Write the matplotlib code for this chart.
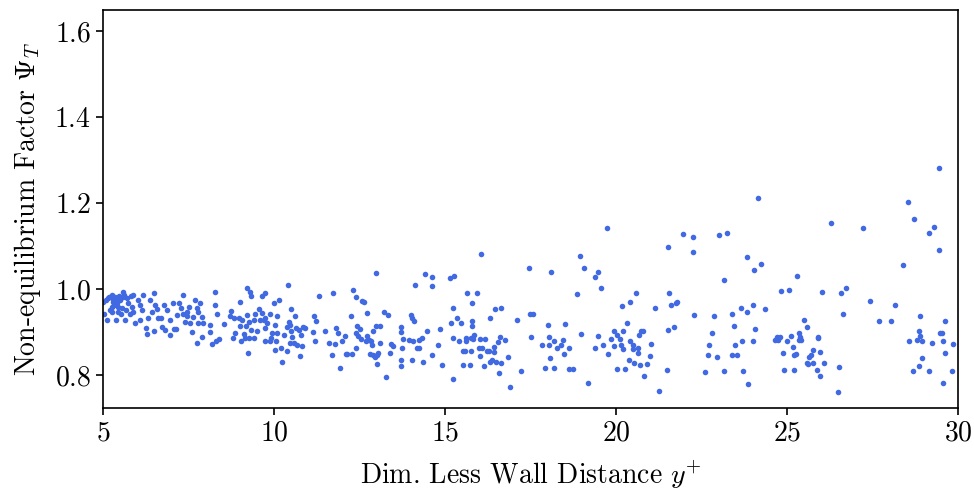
import matplotlib
matplotlib.use("Agg")
import matplotlib.pyplot as plt

plt.rcParams['font.family'] = 'serif'
plt.rcParams['font.serif'] = ['cmr10', 'DejaVu Serif']
plt.rcParams['mathtext.fontset'] = 'cm'
plt.rcParams['axes.formatter.use_mathtext'] = True

# (y+, Psi_T) points, grouped by y+ range
pts_a = [
    (5.09,0.974),(5.13,0.928),(5.25,0.986),(5.30,0.971),(5.35,0.982),(5.40,0.967),(5.45,0.959),
    (5.50,0.974),(5.59,0.994),(5.61,0.986),(5.69,0.978),(5.89,0.986),(5.25,0.959),(5.25,0.947),
    (5.38,0.928),(5.45,0.947),(5.52,0.943),(5.64,0.928),(5.67,0.951),(5.79,0.943),(5.89,0.947),
    (5.94,0.920),(6.03,0.974),(6.08,0.964),(6.13,0.951),(6.16,0.986),(6.08,0.928),(6.26,0.909),
    (6.30,0.895),(6.33,0.932),(6.37,0.974),(6.42,0.947),(6.49,0.990),(6.49,0.902),(6.52,0.964),
    (6.57,0.953),(6.62,0.932),(6.69,0.932),(6.72,0.912),(6.78,0.964),(6.81,0.905),(6.86,0.951),
    (6.96,0.929),(6.96,0.892),(7.04,0.967),(7.08,0.906),(7.13,0.906),(7.17,0.940),(7.23,0.967),
    (7.27,0.957),(7.33,0.986),(7.35,0.943),(7.40,0.924),(7.45,0.947),(7.47,0.937),(7.52,0.959),
    (7.54,0.920),(7.59,0.901),(7.64,0.936),(7.69,0.974),(7.74,0.955),(7.79,0.947),(7.79,0.920),
    (7.84,0.967),(7.89,0.936),(7.93,0.920),(7.74,0.875),(7.89,0.889),(8.13,0.916),(8.13,0.901),
    (8.18,0.872),(8.27,0.994),(8.27,0.964),(8.32,0.941),(8.30,0.878),(8.40,0.883),(8.54,0.918),
    (5.16,0.978),(5.20,0.951),(5.28,0.977),(5.32,0.963),(5.42,0.973),(5.48,0.983),(5.55,0.957),
    (5.58,0.981),(5.74,0.967),(5.81,0.984),(5.84,0.959),(5.19,0.982),(5.01,0.971),(5.03,0.943),
]
pts_b = [
    (8.75,0.949),(8.72,0.937),(8.79,0.887),(8.87,0.898),(8.82,0.933),(8.97,0.932),(9.02,0.971),
    (9.02,0.914),(9.04,0.879),(9.08,0.929),(9.11,0.895),(9.16,0.885),(9.18,0.914),(9.21,1.002),
    (9.21,0.940),(9.24,0.852),(9.26,0.924),(9.28,0.885),(9.31,0.994),(9.34,0.984),(9.34,0.905),
    (9.41,0.885),(9.41,0.929),(9.46,0.943),(9.51,0.903),(9.57,0.953),(9.60,0.928),(9.65,0.984),
    (9.65,0.945),(9.70,0.928),(9.73,0.932),(9.73,0.878),(9.75,0.991),(9.75,0.909),(9.80,0.920),
    (9.87,0.943),(9.89,0.878),(9.92,0.885),(9.94,0.898),(9.99,0.967),(10.02,0.916),(10.04,0.858),
    (10.06,0.878),(10.09,0.937),(10.09,0.898),(10.16,0.974),(10.21,0.862),(10.23,0.831),(10.28,0.893),
    (10.38,0.856),(10.38,0.912),(10.41,1.009),(10.43,0.924),(10.48,0.916),(10.48,0.874),(10.51,0.953),
    (10.51,0.903),(10.53,0.889),(10.58,0.874),(10.61,0.937),(10.63,0.909),(10.68,0.870),(10.73,0.905),
    (10.75,0.844),(10.78,0.893),(10.82,0.867),(10.84,0.911),(10.90,0.909),(11.13,0.901),(11.16,0.937),
    (11.19,0.878),(11.23,0.926),(11.33,0.984),(11.50,0.903),(11.62,0.874),(11.70,0.847),(11.74,0.990),
    (11.77,0.872),(11.81,0.910),(11.87,0.898),(11.94,0.816),(11.99,0.879),(12.09,0.891),(12.11,0.850),
]
pts_c = [
    (12.14,0.849),(12.24,0.937),(12.29,0.849),(12.32,0.998),(12.39,0.982),(12.39,0.862),(12.39,0.898),
    (12.44,0.914),(12.46,0.891),(12.51,0.906),(12.53,0.883),(12.58,0.973),(12.63,0.971),(12.68,0.878),
    (12.71,0.945),(12.73,0.891),(12.78,0.881),(12.81,0.849),(12.85,0.878),(12.88,0.870),(12.91,0.847),
    (12.91,0.902),(12.95,0.843),(12.97,1.038),(12.97,0.914),(13.00,0.826),(13.02,0.847),(13.04,0.852),
    (13.10,0.914),(13.10,0.874),(13.22,0.947),(13.27,0.795),(13.34,0.940),(13.39,0.852),(13.43,0.872),
    (13.49,0.867),(13.70,0.912),(13.72,0.901),(13.70,0.836),(13.70,0.821),(13.75,0.864),(13.78,0.883),
    (13.95,0.881),(14.00,0.940),(14.05,0.932),(14.05,0.835),(14.09,0.926),(14.07,0.878),(14.12,1.009),
    (14.17,0.862),(14.24,0.862),(14.24,0.881),(14.34,0.885),(14.37,0.831),(14.43,1.034),(14.46,0.903),
    (14.63,1.029),(14.63,1.007),(14.63,0.847),(14.80,0.870),(14.85,0.907),(14.90,0.823),(15.15,1.025),
    (15.19,0.920),(15.22,0.957),(15.23,0.885),(15.26,1.030),(15.23,0.791),(15.36,0.932),(15.41,0.878),
    (15.48,0.922),(15.54,0.857),(15.54,0.823),(15.58,0.857),(15.61,0.885),(15.61,0.878),(15.65,0.991),
]
pts_d = [
    (15.73,0.823),(15.76,0.856),(15.79,0.967),(15.79,0.926),(15.79,0.914),(15.76,0.885),(15.83,0.883),
    (15.86,0.893),(15.93,0.990),(16.00,0.864),(16.03,0.883),(16.03,0.844),(16.05,1.081),(16.08,0.864),
    (16.15,0.822),(16.18,0.883),(16.22,0.857),(16.28,0.857),(16.32,0.932),(16.32,0.831),(16.37,0.835),
    (16.44,0.866),(16.44,0.854),(16.47,0.953),(16.49,0.831),(16.54,0.876),(16.57,0.805),(16.61,0.889),
    (16.63,0.957),(16.64,0.829),(16.76,0.881),(16.84,0.843),(16.90,0.773),(17.10,0.929),(17.22,0.810),
    (17.47,1.048),(17.49,0.942),(17.52,0.889),(17.56,0.942),(17.84,0.870),(17.91,0.816),(18.02,0.916),
    (18.03,0.888),(18.05,0.870),(18.07,0.839),(18.10,1.040),(18.20,0.879),(18.20,0.816),(18.27,0.864),
    (18.40,0.870),(18.44,0.881),(18.47,0.848),(18.51,0.918),(18.62,0.814),(18.73,0.814),(18.62,0.862),
    (18.86,0.988),(18.96,1.077),(18.98,0.895),(19.07,1.050),(19.17,0.781),
]
pts_e = [
    (19.38,1.027),(19.46,1.039),(19.56,1.002),(19.38,0.862),(19.46,0.891),(19.62,0.871),(19.77,0.849),
    (19.84,0.883),(19.94,0.903),(19.94,0.868),(20.04,0.893),(20.11,0.884),(20.14,0.870),(20.18,0.960),
    (20.20,0.903),(20.20,0.860),(20.33,0.922),(20.40,0.879),(20.40,0.971),(20.37,0.836),(20.50,0.870),
    (20.50,0.860),(20.53,0.827),(20.58,0.990),(20.64,0.864),(20.64,0.852),(20.66,0.893),(20.69,0.824),
    (20.74,0.903),(20.79,0.903),(20.82,0.798),(20.92,0.825),(20.99,0.844),(21.03,0.872),(20.04,0.813),
    (20.25,0.813),(21.13,0.957),(21.26,0.763),(21.48,0.812),(21.51,1.098),(21.51,0.905),(21.56,0.990),
    (21.62,0.962),(21.70,0.912),(21.74,0.968),(21.77,0.969),(22.26,1.085),(22.28,0.940),(22.61,0.808),
    (22.69,0.847),(22.73,0.871),(22.81,0.898),(22.86,0.937),
]
pts_f = [
    (22.94,0.843),(23.15,0.809),(23.15,1.022),(23.38,0.942),(23.38,0.847),(23.46,0.914),(23.48,0.871),
    (23.53,0.847),(23.66,0.955),(23.67,0.880),(23.70,0.809),(23.82,1.074),(23.84,0.946),(23.86,0.779),
    (24.00,0.878),(24.02,0.964),(24.04,1.044),(24.06,0.906),(24.24,1.058),(24.35,0.953),(24.65,0.881),
    (24.70,0.888),(24.75,0.881),(24.80,0.889),(24.82,0.996),(24.88,0.852),(24.90,0.812),(25.00,0.878),
    (25.07,0.998),(25.12,0.891),(25.17,0.866),(25.21,0.847),(25.21,0.812),(25.25,0.850),(25.30,1.031),
    (25.34,0.881),(25.36,0.898),(25.38,0.888),(25.40,0.881),(25.51,0.928),(25.58,0.912),(25.65,0.841),
    (25.69,0.847),(25.75,0.858),(25.58,0.829),(25.60,0.826),(25.77,0.827),(25.87,0.812),(25.92,0.885),
    (25.92,0.888),(25.97,0.854),(25.97,0.798),(26.02,0.994),(26.07,0.829),
]
pts_g = [
    (26.59,0.990),(26.72,1.003),(26.65,0.942),(26.53,0.818),(26.49,0.761),(27.42,0.972),(27.70,0.926),
    (28.03,0.926),(28.15,0.964),(28.39,1.056),(28.56,0.879),(28.67,0.810),(28.81,0.881),(28.86,0.903),
    (28.88,0.937),(28.89,0.891),(28.94,0.880),(28.94,0.840),(28.86,0.821),(29.16,0.810),(29.25,0.874),
    (29.45,1.091),(29.47,0.898),(29.53,0.898),(29.55,0.880),(29.61,0.926),(29.61,0.852),(29.55,0.782),
    (29.81,0.810),(29.85,0.872),
]
pts_high = [
    (29.45,1.281),(24.14,1.212),(28.55,1.203),(28.72,1.164),(29.31,1.145),(29.16,1.130),(26.29,1.153),
    (27.23,1.143),(21.96,1.128),(22.24,1.122),(23.01,1.125),(23.24,1.130),(19.73,1.143),
]

all_pts = pts_a + pts_b + pts_c + pts_d + pts_e + pts_f + pts_g + pts_high
y_plus = [p[0] for p in all_pts]
psi_t = [p[1] for p in all_pts]

x_ticks = [5, 10, 15, 20, 25, 30]
y_ticks = [0.8, 1.0, 1.2, 1.4, 1.6]

fig = plt.figure(figsize=(9.74, 4.98), dpi=100)
ax = fig.add_axes([0.1057, 0.1807, 0.8779, 0.7993])
ax.scatter(y_plus, psi_t, s=16, color='royalblue', linewidths=0)
ax.set_xlim(5, 30)
ax.set_ylim(0.7233, 1.649)
ax.set_xticks(x_ticks)
ax.set_yticks(y_ticks)
ax.tick_params(labelsize=20, width=1.2, length=5)
for sp in ax.spines.values():
    sp.set_linewidth(1.2)
ax.set_xlabel(r'Dim. Less Wall Distance $y^{+}$', fontsize=20, labelpad=9)
ax.set_ylabel(r'Non-equilibrium Factor $\Psi_T$', fontsize=20, labelpad=8)
fig.savefig('out.png', dpi=100)
